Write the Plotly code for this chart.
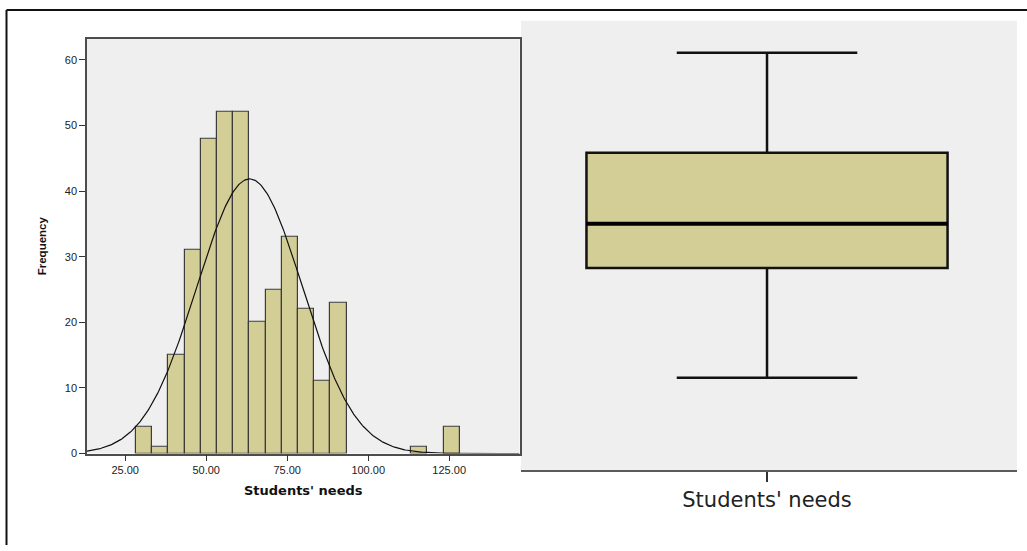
import numpy as np
import plotly.graph_objects as go

# ---------------- data ----------------
# Histogram of "Students' needs"
bin_first_edge = 28.3
bin_width = 5.0
hist_counts = [4, 1, 15, 31, 48, 52, 52, 20, 25, 33, 22, 11, 23, 0, 0, 0, 0, 1, 0, 4]
x_tick_vals = [25, 50, 75, 100, 125]
x_tick_text = ["25.00", "50.00", "75.00", "100.00", "125.00"]
y_tick_vals = [0, 10, 20, 30, 40, 50, 60]

# normal curve parameters (as drawn by SPSS)
curve_mean = 63.4
curve_sd = 16.3
n_total = sum(hist_counts)

# Box plot summary (arbitrary unlabelled scale)
box_lowerfence = 31.0
box_q1 = 50.0
box_median = 57.7
box_q3 = 70.0
box_upperfence = 87.3
box_label = "Students' needs"

# ---------------- styling ----------------
W, H = 1027, 551
BAR_FILL = "#d3cd96"
BG = "#efefef"

def px_x(p):
    return p / W

def px_y(p):
    return 1 - p / H

bin_centers = [bin_first_edge + bin_width * (i + 0.5) for i in range(len(hist_counts))]
bar_line_widths = [1.2 if c > 0 else 0 for c in hist_counts]

x_range = [13.2, 146.7]
curve_x = np.linspace(x_range[0], x_range[1], 400)
curve_y = n_total * bin_width / (curve_sd * np.sqrt(2 * np.pi)) * np.exp(
    -((curve_x - curve_mean) ** 2) / (2 * curve_sd ** 2))

fig = go.Figure()

fig.add_trace(go.Bar(
    x=bin_centers, y=hist_counts, width=bin_width,
    marker=dict(color=BAR_FILL, line=dict(color="#3c3c3c", width=bar_line_widths)),
    xaxis="x", yaxis="y", showlegend=False, hoverinfo="x+y"))

fig.add_trace(go.Scatter(
    x=curve_x, y=curve_y, mode="lines",
    line=dict(color="#111111", width=1.2),
    xaxis="x", yaxis="y", showlegend=False, hoverinfo="skip"))

box_w = 0.728
fig.add_trace(go.Box(
    x=[0], q1=[box_q1], median=[box_median], q3=[box_q3],
    lowerfence=[box_lowerfence], upperfence=[box_upperfence],
    width=box_w, whiskerwidth=0.5, boxpoints=False,
    fillcolor=BAR_FILL, line=dict(color="#111111", width=2.5),
    xaxis="x2", yaxis="y2", showlegend=False, name=box_label))

fig.add_trace(go.Scatter(
    x=[-box_w / 2, box_w / 2], y=[box_median, box_median], mode="lines",
    line=dict(color="#000000", width=4),
    xaxis="x2", yaxis="y2", showlegend=False, hoverinfo="skip"))

axis_font = dict(family="Liberation Sans, Arial, sans-serif", size=11, color="#222222")

fig.update_layout(
    width=W, height=H,
    margin=dict(l=0, r=0, t=0, b=0),
    paper_bgcolor="white",
    plot_bgcolor=BG,
    bargap=0,
    xaxis=dict(
        domain=[px_x(87), px_x(519.5)], range=x_range, anchor="y",
        tickvals=x_tick_vals, ticktext=x_tick_text, tickfont=axis_font,
        ticks="outside", ticklen=6, tickcolor="#333333", tickwidth=1,
        showline=True, mirror=True, linecolor="#4d4d4d", linewidth=1.5,
        showgrid=False, zeroline=False,
        title=dict(text="<b>Students' needs</b>", standoff=10,
                   font=dict(family="DejaVu Sans, sans-serif", size=13, color="#111111")),
    ),
    yaxis=dict(
        domain=[px_y(458.5), px_y(39.3)], range=[0, 63.2], anchor="x",
        tickvals=y_tick_vals, tickfont=dict(family="Liberation Sans, Arial, sans-serif", size=11, color="#222222"),
        ticks="outside", ticklen=6, tickcolor="#333333", tickwidth=1,
        showline=True, mirror=True, linecolor="#4d4d4d", linewidth=1.5,
        showgrid=False, zeroline=False,
        title=dict(text="<b>Frequency</b>", standoff=16,
                   font=dict(family="Liberation Sans, Arial, sans-serif", size=11.5, color="#111111")),
    ),
    xaxis2=dict(
        domain=[px_x(521), px_x(1017)], range=[-0.496, 0.504], anchor="y2",
        tickvals=[0], ticktext=[box_label],
        tickfont=dict(family="DejaVu Sans, sans-serif", size=21, color="#222222"),
        ticks="outside", ticklen=10, tickwidth=2, tickcolor="#333333",
        showline=True, mirror=False, linecolor="#5a5a5a", linewidth=2,
        showgrid=False, zeroline=False,
    ),
    yaxis2=dict(
        domain=[px_y(475), px_y(21)], range=[15.04, 92.85], anchor="x2",
        showticklabels=False, ticks="", showline=False,
        showgrid=False, zeroline=False,
    ),
    shapes=[
        dict(type="line", xref="paper", yref="paper",
             x0=px_x(6.5), x1=1, y0=px_y(10), y1=px_y(10),
             line=dict(color="#111111", width=2)),
        dict(type="line", xref="paper", yref="paper",
             x0=px_x(6.5), x1=px_x(6.5), y0=0, y1=px_y(10),
             line=dict(color="#111111", width=2)),
    ],
)

fig.write_html("out.html",
               config={"displayModeBar": False},
               post_script="document.body.style.margin='0';document.body.style.overflow='hidden';")
